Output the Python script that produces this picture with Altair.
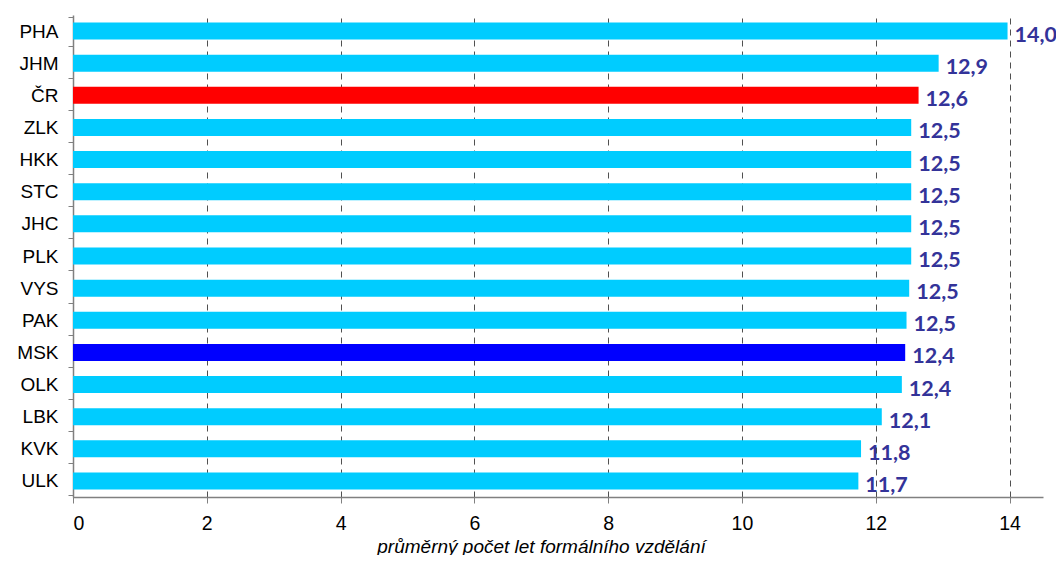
import altair as alt
import pandas as pd

regions = ["PHA", "JHM", "ČR", "ZLK", "HKK", "STC", "JHC", "PLK", "VYS", "PAK", "MSK", "OLK", "LBK", "KVK", "ULK"]
values = [13.97, 12.94, 12.64, 12.53, 12.53, 12.53, 12.53, 12.53, 12.50, 12.46, 12.44, 12.39, 12.09, 11.78, 11.74]
colors = ["#00CCFF", "#00CCFF", "#FF0000", "#00CCFF", "#00CCFF", "#00CCFF", "#00CCFF", "#00CCFF",
          "#00CCFF", "#00CCFF", "#0000FF", "#00CCFF", "#00CCFF", "#00CCFF", "#00CCFF"]
x_ticks = [0, 2, 4, 6, 8, 10, 12, 14]

df = pd.DataFrame({"region": regions, "value": values, "color": colors})

base = alt.Chart(df).transform_calculate(
    label="replace(format(datum.value, '.1f'), '.', ',')"
).encode(
    x=alt.X("value:Q", scale=alt.Scale(domain=[0, 14.5], nice=False),
            title="průměrný počet let formálního vzdělání",
            axis=alt.Axis(values=x_ticks, format="d")),
    y=alt.Y("region:N", sort=None, title=None, axis=alt.Axis(labelAngle=0)),
)

bars = base.mark_bar(size=17).encode(color=alt.Color("color:N", scale=None))

labels = base.mark_text(align="left", baseline="middle", dx=7, dy=5, font="Lato", fontSize=21.5,
                        fontWeight="bold", color="#333399").encode(text="label:N")

chart = alt.layer(bars, labels).properties(
    width=970, height=482,
    autosize=alt.AutoSizeParams(type="none"),
    padding={"left": 65, "top": 7, "right": 13, "bottom": 58},
).configure_view(stroke=None).configure_axisX(
    labelFont="Liberation Sans", labelFontSize=19.5, labelColor="#000000", labelPadding=11,
    tickSize=6, tickColor="#808080", domainColor="#808080", domainWidth=1.5,
    grid=True, gridColor="#505050", gridDash=[6, 5], gridWidth=1,
    titleFont="Liberation Sans", titleFontSize=19, titleFontStyle="italic",
    titleFontWeight="normal", titleColor="#000000",
    titleX=468, titleY=55, titleAnchor="start", titleAlign="center", titleBaseline="alphabetic",
).configure_axisY(
    labelFont="Liberation Sans", labelFontSize=19, labelColor="#000000", labelPadding=10,
    tickBand="extent", tickSize=5, tickColor="#808080", domainColor="#808080", domainWidth=1.5,
    grid=False,
)

chart.save("out.html", embed_options={"renderer": "svg", "actions": False})
